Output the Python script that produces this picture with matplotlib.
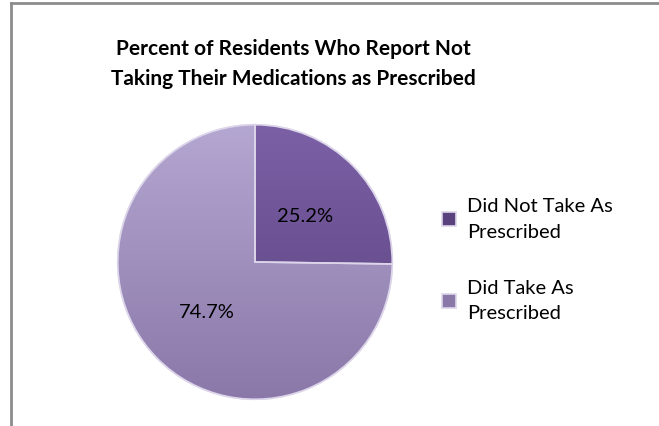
import matplotlib.pyplot as plt
import numpy as np
from matplotlib.colors import LinearSegmentedColormap
from matplotlib.lines import Line2D
from matplotlib.patches import PathPatch

labels = ["Did Not Take As\nPrescribed", "Did Take As\nPrescribed"]
values = [25.2, 74.7]
colors = ["#6B5194", "#A596C4"]
# top / bottom shades for the slice gradients
shades = [("#7b60a6", "#5a427e"), ("#b4a7d1", "#8a78a9")]
title = "Percent of Residents Who Report Not\nTaking Their Medications as Prescribed"

plt.rcParams["font.family"] = ["Lato", "DejaVu Sans"]

W, H = 659, 426
fig = plt.figure(figsize=(W / 100, H / 100), dpi=100)

# chart frame (top and left edges visible)
fig.add_artist(Line2D([11 / W, 11 / W], [0, 1 - 3 / H], color="#8c8c8c", lw=2,
                      transform=fig.transFigure))
fig.add_artist(Line2D([11 / W, 1], [1 - 3 / H, 1 - 3 / H], color="#8c8c8c", lw=2,
                      transform=fig.transFigure))

cx, cy, r = 255, 262, 140
ax = fig.add_axes([(cx - r) / W, (H - cy - r) / H, 2 * r / W, 2 * r / H])

wedges, texts = ax.pie(
    values,
    colors=colors,
    startangle=90,
    counterclock=False,
    radius=1,
    wedgeprops=dict(edgecolor="#ddd6ea", linewidth=1.2),
)

grad = np.linspace(0, 1, 256).reshape(-1, 1)
for w, (top, bot) in zip(wedges, shades):
    cmap = LinearSegmentedColormap.from_list("g", [top, bot])
    im = ax.imshow(grad, cmap=cmap, extent=[-1, 1, -1, 1], aspect="auto",
                   origin="upper", zorder=w.get_zorder() + 0.1)
    im.set_clip_path(w)
# keep the edges on top
for w in wedges:
    ax.add_patch(PathPatch(w.get_path(), fill=False, edgecolor="#ddd6ea",
                           lw=1.2, zorder=5, transform=w.get_transform()))

ax.set_xlim(-1.02, 1.02)
ax.set_ylim(-1.02, 1.02)
ax.set_aspect("equal")
ax.axis("off")

label_pos = [(305, 217), (207, 312)]
for v, (px, py) in zip(values, label_pos):
    fig.text(px / W, 1 - py / H, f"{v:.1f}%",
             ha="center", va="center", fontsize=14.5, color="black")

fig.text(293 / W, 1 - 64 / H, title, ha="center", va="center",
         fontsize=15, fontweight="bold", linespacing=1.65)

leg = fig.legend(wedges, labels, loc="upper left",
                 bbox_to_anchor=(424 / W, 1 - 180 / H),
                 frameon=False, fontsize=14.5, handlelength=0.7, handleheight=0.7,
                 handletextpad=0.55, labelspacing=1.95)
for t in leg.get_texts():
    t.set_linespacing(1.6)
for h, c in zip(leg.legend_handles, shades):
    h.set_facecolor(c[1])
    h.set_edgecolor("#ddd6ea")

fig.savefig("out.png", dpi=100)
